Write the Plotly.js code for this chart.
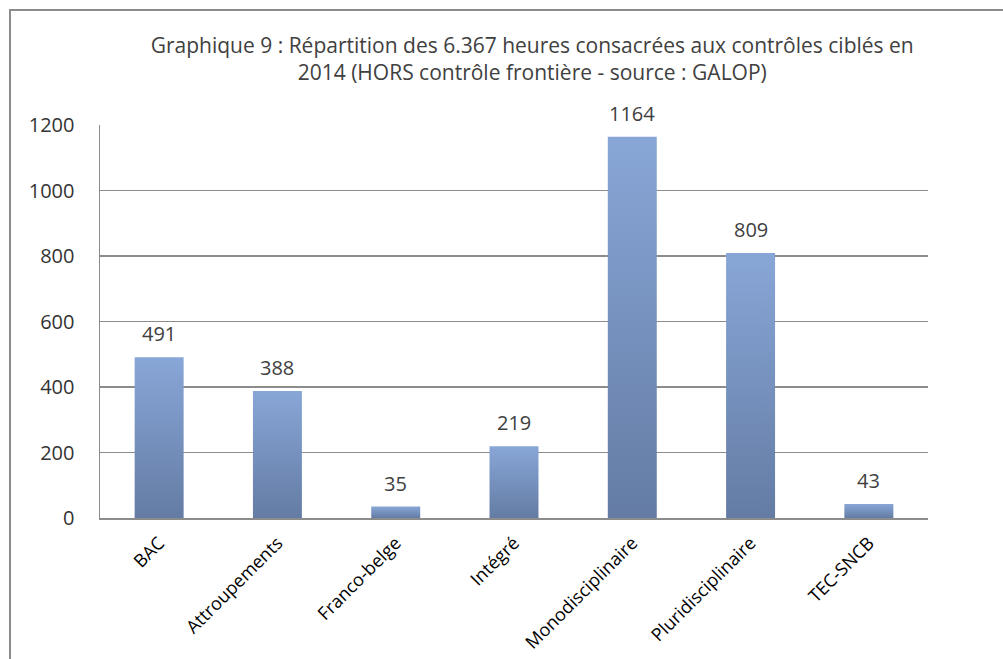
<!DOCTYPE html>
<html>
<head>
<meta charset="utf-8">
<script src="https://cdn.plot.ly/plotly-3.0.1.min.js"></script>
<style>
html,body{margin:0;padding:0;background:#fff;}
#chart{width:1003px;height:659px;}
</style>
</head>
<body>
<div id="chart"></div>
<script>
var categories = ["BAC", "Attroupements", "Franco-belge", "Intégré", "Monodisciplinaire", "Pluridisciplinaire", "TEC-SNCB"];
var hours = [491, 388, 35, 219, 1164, 809, 43];
var yTicks = [0, 200, 400, 600, 800, 1000, 1200];
var titleText = "Graphique 9 : Répartition des 6.367 heures consacrées aux contrôles ciblés en<br>2014 (HORS contrôle frontière - source : GALOP)";

var fontFam = "'Open Sans', 'DejaVu Sans', sans-serif";

var trace = {
  type: "bar",
  x: categories,
  y: hours,
  marker: {color: "#7792c3", line: {width: 0}},
  hoverinfo: "x+y"
};

var annotations = categories.map(function(c, i){
  return {
    x: c, y: hours[i], xref: "x", yref: "y",
    text: String(hours[i]), showarrow: false,
    yanchor: "bottom", yshift: 8,
    font: {family: fontFam, size: 20, color: "#404040"}
  };
});

var layout = {
  width: 1003, height: 659,
  margin: {l: 100, r: 75, t: 125, b: 141},
  paper_bgcolor: "#ffffff",
  plot_bgcolor: "#ffffff",
  bargap: 0.586,
  showlegend: false,
  title: {
    text: titleText,
    x: 0.522, xref: "paper", xanchor: "center",
    y: 0.92, yref: "container", yanchor: "top",
    font: {family: fontFam, size: 21, color: "#404040"}
  },
  xaxis: {
    type: "category",
    tickangle: -45,
    showgrid: false,
    showline: true, linecolor: "#8c8c8c", linewidth: 1.5,
    ticks: "",
    ticklabelstandoff: 6,
    tickfont: {family: fontFam, size: 18, color: "#000000"}
  },
  yaxis: {
    range: [0, 1200],
    tickvals: yTicks,
    ticktext: yTicks.map(String),
    showgrid: true, gridcolor: "#8c8c8c", gridwidth: 1.5,
    showline: true, linecolor: "#8c8c8c", linewidth: 1.5,
    zeroline: false,
    ticks: "",
    ticklabelstandoff: 20,
    tickfont: {family: fontFam, size: 20, color: "#333333"}
  },
  annotations: annotations,
  shapes: [{
    type: "rect", xref: "paper", yref: "paper",
    x0: (10 - 100) / 828, x1: (1020 - 100) / 828,
    y0: (518 - 700) / 393, y1: (518 - 10) / 393,
    line: {color: "#8c8c8c", width: 2},
    fillcolor: "rgba(0,0,0,0)",
    layer: "below"
  }]
};

Plotly.newPlot("chart", [trace], layout, {displayModeBar: false, staticPlot: true}).then(function(gd){
  var svg = gd.querySelector("svg.main-svg");
  var ns = "http://www.w3.org/2000/svg";
  var defs = svg.querySelector("defs") || svg.insertBefore(document.createElementNS(ns, "defs"), svg.firstChild);
  var grad = document.createElementNS(ns, "linearGradient");
  grad.setAttribute("id", "barGradFill");
  grad.setAttribute("x1", "0"); grad.setAttribute("y1", "0");
  grad.setAttribute("x2", "0"); grad.setAttribute("y2", "1");
  var s1 = document.createElementNS(ns, "stop");
  s1.setAttribute("offset", "0"); s1.setAttribute("stop-color", "#88a6d7");
  var s2 = document.createElementNS(ns, "stop");
  s2.setAttribute("offset", "1"); s2.setAttribute("stop-color", "#647ca4");
  grad.appendChild(s1); grad.appendChild(s2);
  defs.appendChild(grad);
  gd.querySelectorAll(".barlayer .point path").forEach(function(p){
    p.style.fill = "url(#barGradFill)";
  });
});
</script>
</body>
</html>
